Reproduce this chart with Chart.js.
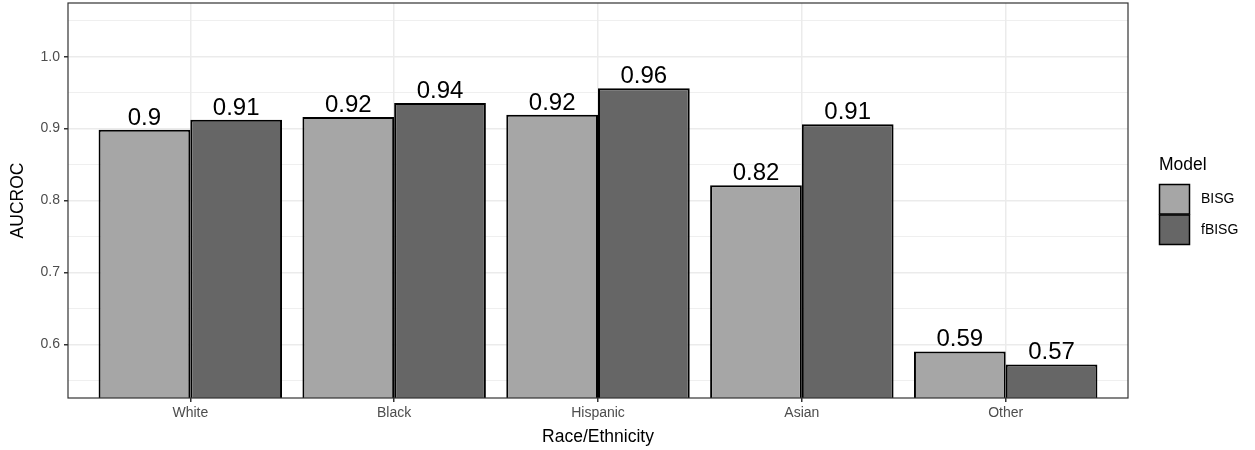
<!DOCTYPE html>
<html>
<head>
<meta charset="utf-8">
<script src="https://cdn.jsdelivr.net/npm/chart.js@4.4.1/dist/chart.umd.min.js"></script>
<style>
  body { margin: 0; background: #fff; }
</style>
</head>
<body>
<canvas id="chart" width="1255" height="450"></canvas>
<script>
"use strict";

const races = ["White", "Black", "Hispanic", "Asian", "Other"];
const bisg = [0.8986, 0.916, 0.9194, 0.8212, 0.5903];
const fbisg = [0.9124, 0.9356, 0.956, 0.906, 0.5723];
const yMajor = [0.6, 0.7, 0.8, 0.9, 1.0];
const yMinor = [0.55, 0.65, 0.75, 0.85, 0.95, 1.05];
const models = ["BISG", "fBISG"];
const fills = ["#a6a6a6", "#666666"];

const FONT = "'Liberation Sans', Arial, sans-serif";

function isMajor(v) {
  return yMajor.some((m) => Math.abs(m - v) < 1e-9);
}

// ggplot-ish panel border
const panelBorder = {
  id: "panelBorder",
  afterDraw(chart) {
    const { ctx, chartArea: a } = chart;
    ctx.save();
    ctx.strokeStyle = "#333333";
    ctx.lineWidth = 1.2;
    ctx.strokeRect(a.left, a.top, a.right - a.left, a.bottom - a.top);
    ctx.restore();
  },
};

// numbers above the bars
const barLabels = {
  id: "barLabels",
  afterDatasetsDraw(chart) {
    const ctx = chart.ctx;
    ctx.save();
    ctx.font = "24px " + FONT;
    ctx.fillStyle = "#000";
    ctx.textAlign = "center";
    ctx.textBaseline = "alphabetic";
    chart.data.datasets.forEach((ds, di) => {
      chart.getDatasetMeta(di).data.forEach((el, i) => {
        let txt = String(Math.round(ds.data[i].y * 100) / 100);
        ctx.fillText(txt, el.x, el.y - 5);
      });
    });
    ctx.restore();
  },
};

// legend on the right
const sideLegend = {
  id: "sideLegend",
  afterDraw(chart) {
    const ctx = chart.ctx;
    ctx.save();
    ctx.fillStyle = "#000";
    ctx.font = "17.5px " + FONT;
    ctx.textAlign = "left";
    ctx.textBaseline = "alphabetic";
    ctx.fillText("Model", 1159, 170);
    models.forEach((m, i) => {
      let y = 184.5 + i * 30.5;
      ctx.fillStyle = fills[i];
      ctx.fillRect(1159.5, y, 30, 29.5);
      ctx.strokeStyle = "#000";
      ctx.lineWidth = 1.5;
      ctx.strokeRect(1159.5, y, 30, 29.5);
      ctx.fillStyle = "#000";
      ctx.font = "14px " + FONT;
      ctx.textBaseline = "middle";
      ctx.fillText(m, 1201, y + 15);
    });
    ctx.restore();
  },
};

let ctx = document.getElementById("chart").getContext("2d");
let chart = new Chart(ctx, {
  type: "bar",
  data: {
    datasets: [
      {
        label: models[0],
        data: bisg.map((v, i) => ({ x: i, y: v })),
        backgroundColor: fills[0],
        borderColor: "#000",
        borderWidth: 2,
      },
      {
        label: models[1],
        data: fbisg.map((v, i) => ({ x: i, y: v })),
        backgroundColor: fills[1],
        borderColor: "#000",
        borderWidth: 2,
      },
    ],
  },
  options: {
    responsive: false,
    animation: false,
    categoryPercentage: 0.9,
    barPercentage: 1,
    layout: { padding: { top: 3, right: 127, left: 0, bottom: 0 } },
    plugins: {
      legend: { display: false },
      tooltip: { enabled: false },
    },
    scales: {
      x: {
        type: "linear",
        min: -0.6,
        max: 4.6,
        offset: false,
        afterBuildTicks(scale) {
          scale.ticks = races.map((r, i) => ({ value: i }));
        },
        afterFit(scale) {
          scale.height = 52;
          scale.paddingLeft = 0;
          scale.paddingRight = 0;
        },
        ticks: {
          autoSkip: false,
          maxRotation: 0,
          padding: 3,
          color: "#4d4d4d",
          font: { family: FONT, size: 14 },
          callback: (v) => races[v],
        },
        grid: {
          offset: false,
          color: "#ebebeb",
          lineWidth: 1.5,
          tickColor: "#333333",
          tickLength: 4,
        },
        border: { display: false },
        title: {
          display: true,
          text: "Race/Ethnicity",
          color: "#000",
          font: { family: FONT, size: 17.5 },
          padding: { top: 0, bottom: 2.5 },
        },
      },
      y: {
        min: 0.5256,
        max: 1.0746,
        afterBuildTicks(scale) {
          scale.ticks = yMajor.concat(yMinor).sort((a, b) => a - b).map((v) => ({ value: v }));
        },
        afterFit(scale) {
          scale.width = 68;
          scale.paddingTop = 0;
          scale.paddingBottom = 0;
        },
        ticks: {
          autoSkip: false,
          padding: 4,
          color: "#4d4d4d",
          font: { family: FONT, size: 14 },
          callback: (v) => (isMajor(v) ? v.toFixed(1) : ""),
        },
        grid: {
          color: "#ebebeb",
          lineWidth: (c) => (c.tick && isMajor(c.tick.value) ? 1.5 : 0.8),
          tickColor: (c) => (c.tick && isMajor(c.tick.value) ? "#333333" : "rgba(0,0,0,0)"),
          tickLength: 4,
        },
        border: { display: false },
        title: {
          display: true,
          text: "AUCROC",
          color: "#000",
          font: { family: FONT, size: 17.5 },
          padding: { top: 8, bottom: 0 },
        },
      },
    },
  },
  plugins: [panelBorder, barLabels, sideLegend],
});
</script>
</body>
</html>
